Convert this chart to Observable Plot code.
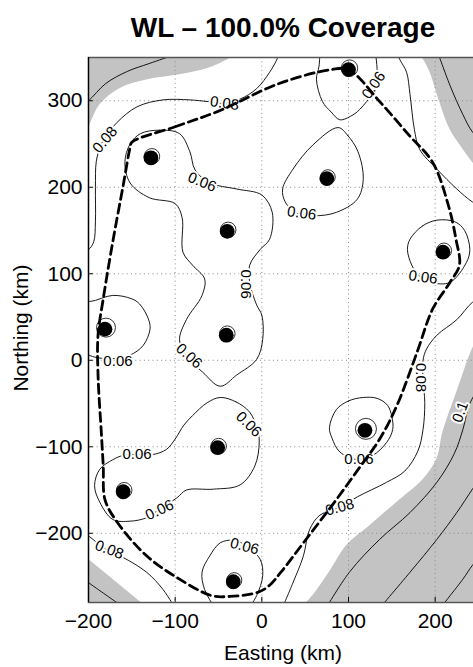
<!DOCTYPE html>
<html><head><meta charset="utf-8">
<script src="https://cdn.jsdelivr.net/npm/d3@7"></script>
<script src="https://cdn.jsdelivr.net/npm/@observablehq/plot@0.6"></script>
<style>
html,body{margin:0;padding:0;background:#fff;overflow:hidden;}
#chart{position:relative;width:480px;height:667px;}
</style></head><body><div id="chart"></div>
<script>
// ---- axes ----
const xDomain = [-200, 250];
const yDomain = [-280, 350];
const xTicks = [-200, -100, 0, 100, 200];
const yTicks = [-200, -100, 0, 100, 200, 300];

// ---- stations ----
const stationX = [100, -128, -40, 75, 209, -181, -41, 119, -51, -160, -33];
const stationY = [336, 234, 149, 210, 125, 36, 29, -81, -101, -152, -256];
const ringR    = [8.2, 7.8, 7.8, 7.4, 7.6, 9.5, 7.8, 10.5, 7.8, 7.8, 7.6];

// ---- coverage boundary (dashed) ----
const boundary = [[-150,252],[-100,270],[-50,288],[20,320],[80,336],[100,336],[136,299],[170,260],[197,229],[215,180],[224,140],[228,110],[217,90],[197,59],[179,9],[156,-52],[136,-91],[112,-125],[86,-161],[48,-211],[22,-245],[9,-260],[-4,-268],[-37,-273],[-58,-272],[-95,-253],[-133,-226],[-167,-187],[-181,-161],[-183,-122],[-185,-87],[-189,-17],[-189,29],[-183,71],[-172,137],[-160,202],[-152,246]];

// ---- 0.06 contours ----
const c06_s1 = [[67,356],[66,340],[63,325],[70,299],[80,287],[90,278],[104,283],[113,290],[128,310],[133,330],[131,356]];
const c06_s4 = [[88,269],[99,260],[111,241],[117,209],[110,186],[86,171],[61,167],[40,170],[27,183],[24,198],[36,221],[59,249]];
const c06_s5 = [[202,162],[185,155],[171,140],[168,128],[173,110],[182,97],[195,90],[217,90],[236,113],[240,128],[234,150],[223,160]];
const c06_peanut = [[-95,262],[-118,266],[-140,262],[-152,250],[-158,229],[-152,205],[-130,188],[-100,181],[-92,165],[-91,125],[-80,110],[-66,94],[-69,75],[-87,47],[-95,24],[-88,6],[-68,-14],[-48,-30],[-29,-17],[-6,1],[1,24],[0,52],[-6,64],[-14,90],[-14,110],[-2,128],[9,140],[12,171],[0,191],[-29,198],[-60,205],[-77,220],[-83,241]];
const c06_s6 = [[-212,70],[-198,68],[-172,75],[-150,71],[-141,65],[-131,48],[-129,36],[-137,17],[-152,6],[-170,2],[-190,3],[-200,6],[-212,10]];
const c06_s9s10 = [[-48,-43],[-30,-48],[-14,-60],[-5,-80],[-3,-95],[-8,-122],[-25,-144],[-56,-149],[-87,-150],[-98,-159],[-118,-172],[-133,-182],[-152,-186],[-172,-184],[-187,-164],[-193,-145],[-187,-126],[-172,-115],[-160,-110],[-144,-109],[-126,-109],[-110,-103],[-100,-91],[-90,-75],[-80,-64],[-63,-49]];
const c06_s11 = [[-52,-290],[-66,-265],[-69,-245],[-60,-226],[-48,-211],[-33,-208],[-20,-213],[-2,-230],[1,-249],[-6,-272],[-17,-290]];
const c06_s8 = [[117,-43],[100,-47],[86,-57],[78,-78],[81,-90],[90,-106],[111,-115],[128,-110],[144,-95],[151,-80],[150,-65],[145,-52],[133,-44]];

// ---- 0.08 contours ----
const c08_main = [[-212,125],[-200,128],[-194,137],[-192,160],[-192,200],[-191,230],[-186,248],[-181,257],[-167,275],[-144,293],[-114,301],[-83,301],[-62,299],[-45,297],[-25,302],[-6,314],[9,333],[17,347],[21,358]];
const c08_tr = [[155,358],[159,348],[167,333],[171,307],[176,267],[182,244],[202,221],[225,198],[243,183],[258,175]];
const c08_right = [[258,75],[243,67],[225,47],[202,29],[190,13],[186,0],[186,-22],[188,-49],[186,-80],[180,-105],[165,-128],[144,-141],[110,-158],[90,-170],[67,-179],[55,-196],[48,-226],[36,-257],[22,-290]];
const c08_bl = [[-212,-195],[-200,-203],[-178,-220],[-160,-228],[-133,-245],[-114,-265],[-98,-290]];

// ---- higher contours (inside shaded area) ----
const cHi_tl = [[-212,292],[-200,300],[-180,320],[-155,334],[-130,343],[-104,352]];
const cHi_tr = [[203,356],[217,318],[232,284],[243,264],[258,250]];
const cHi_br1 = [[72,-290],[101,-245],[136,-207],[171,-176],[202,-141],[222,-108],[232,-80],[240,-50],[258,-20]];
const cHi_br2 = [[133,-290],[171,-245],[202,-207],[225,-176],[243,-149],[258,-128]];
const cHi_br3 = [[203,-290],[232,-253],[243,-237],[258,-220]];
const cHi_bl = [[-212,-248],[-200,-257],[-166,-281]];

// ---- shaded regions (edge of shading) ----
const shadeTL = [[-200,267],[-187,295],[-164,314],[-133,324],[-95,330],[-63,337],[-40,347],[-33,352]];
const shadeTR = [[184,352],[194,333],[205,299],[217,267],[232,244],[243,229],[252,218]];
const shadeBR = [[50,-282],[59,-272],[78,-245],[98,-214],[125,-191],[156,-164],[186,-138],[202,-114],[209,-83],[225,-37],[243,13],[252,30]];
const shadeBL = [[-200,-230],[-137,-282]];

// ---- contour labels ----
const labelX = [-43, -181, 129, 46, -69, -19, -84, -166, -15, -144, -118, -176, -20, 112, 90, 186, 184, 229];
const labelY = [297, 255, 318, 170, 206, 88, 5, -1, -74, -108, -173, -219, -215, -114, -170, 96, -20, -60];
const labelT = ["0.08","0.08","0.06","0.06","0.06","0.06","0.06","0.06","0.06","0.06","0.06","0.08","0.06","0.06","0.08","0.06","0.08","0.1"];
const labelR = [8, -50, -55, 8, 22, 90, 42, 0, 45, 0, -25, 20, 15, 0, -15, 8, 90, -70];

// ---- build ----
const pts = a => a.map(([x, y]) => ({x, y}));
const stations = stationX.map((x, i) => ({x, y: stationY[i], ring: ringR[i]}));
const labels = labelX.map((x, i) => ({x, y: labelY[i], t: labelT[i], r: labelR[i]}));

const openLines = [c06_s1, c06_s6, c06_s11, c08_main, c08_tr, c08_right, c08_bl, cHi_tl, cHi_tr, cHi_br1, cHi_br2, cHi_br3, cHi_bl];
const closedLines = [c06_s4, c06_s5, c06_peanut, c06_s9s10, c06_s8];
const gray = "#c3c3c3";
const font = "'Liberation Sans', Arial, Helvetica, sans-serif";

const marks = [
  Plot.areaY(pts(shadeTL), {x: "x", y1: "y", y2: () => 360, fill: gray, curve: "catmull-rom", clip: true}),
  Plot.areaY(pts(shadeTR), {x: "x", y1: "y", y2: () => 360, fill: gray, curve: "catmull-rom", clip: true}),
  Plot.areaY(pts(shadeBR), {x: "x", y1: () => -290, y2: "y", fill: gray, curve: "catmull-rom", clip: true}),
  Plot.areaY(pts(shadeBL), {x: "x", y1: () => -290, y2: "y", fill: gray, clip: true}),
  Plot.ruleX(xTicks, {stroke: "#8a8a8a", strokeDasharray: "1,3.3", strokeWidth: 1}),
  Plot.ruleY(yTicks, {stroke: "#8a8a8a", strokeDasharray: "1,3.3", strokeWidth: 1}),
  ...openLines.map(a => Plot.line(pts(a), {x: "x", y: "y", stroke: "black", strokeWidth: 0.9, curve: "catmull-rom", clip: true})),
  ...closedLines.map(a => Plot.line(pts(a), {x: "x", y: "y", stroke: "black", strokeWidth: 0.9, curve: "catmull-rom-closed", clip: true})),
  Plot.text(labels, {x: "x", y: "y", text: "t", rotate: "r", fontSize: 15, fontFamily: font, fill: "black", stroke: "white", strokeWidth: 4, paintOrder: "stroke"}),
  Plot.line(pts(boundary), {x: "x", y: "y", stroke: "black", strokeWidth: 2.8, strokeDasharray: "9,5", curve: "catmull-rom-closed"}),
  Plot.dot(stations, {x: "x", y: "y", r: "ring", stroke: "black", strokeWidth: 0.8, fill: "none", dx: 1, dy: -1.5}),
  Plot.dot(stations, {x: "x", y: "y", r: () => 7.4, fill: "black", stroke: "none"}),
  Plot.ruleY(yTicks, {x1: () => -200, x2: () => -194.5, stroke: "black", strokeWidth: 1}),
  Plot.ruleX(xTicks, {y1: () => -280, y2: () => -274, stroke: "black", strokeWidth: 1}),
  Plot.frame({stroke: "#555", strokeWidth: 1.5}),
  Plot.ruleX([-200], {stroke: "black", strokeWidth: 1.2})
];

const svg = Plot.plot({
  width: 480,
  height: 667,
  marginTop: 57,
  marginBottom: 65,
  marginLeft: 88,
  marginRight: 2,
  style: "max-width:none;font-size:21px;font-family:" + font + ";background:white;color:black;",
  x: {domain: xDomain, ticks: xTicks, tickSize: 0, tickPadding: 11, label: null, tickFormat: d => d < 0 ? "\u2212" + Math.abs(d) : String(d)},
  y: {domain: yDomain, ticks: yTicks, tickSize: 0, tickPadding: 6, label: null, tickFormat: d => d < 0 ? "\u2212" + Math.abs(d) : String(d)},
  r: {type: "identity"},
  marks
});
document.getElementById("chart").appendChild(svg);

const s = d3.select(svg);
s.append("text").attr("x", 283).attr("y", 37).attr("text-anchor", "middle")
  .attr("font-size", 28).attr("font-weight", "bold").attr("font-family", font).attr("fill", "black")
  .text("WL \u2013 100.0% Coverage");
s.append("text").attr("x", 283).attr("y", 660).attr("text-anchor", "middle")
  .attr("font-size", 21).attr("font-family", font).attr("fill", "black")
  .text("Easting (km)");
s.append("text").attr("transform", "translate(28,328) rotate(-90)").attr("text-anchor", "middle")
  .attr("font-size", 21).attr("font-family", font).attr("fill", "black")
  .text("Northing (km)");
</script></body></html>
